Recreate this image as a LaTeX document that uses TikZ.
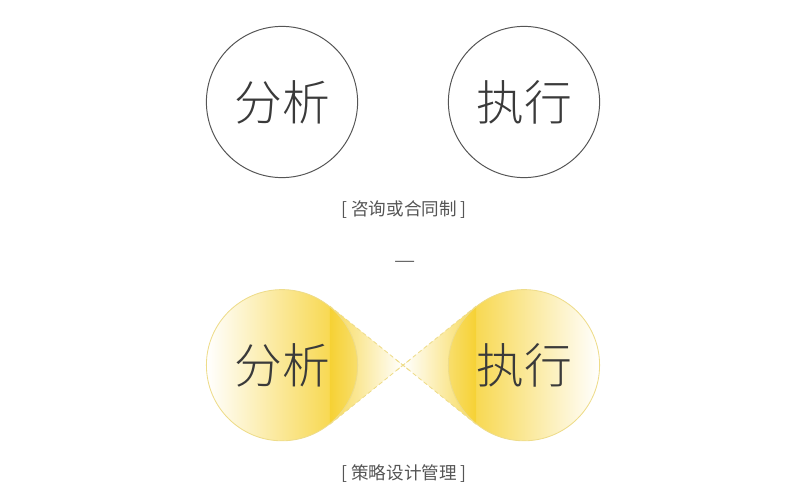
\documentclass[tikz,border=0pt]{standalone}
\usepackage{fontspec}
\newfontfamily\cjk{Noto Sans CJK SC}
\newfontfamily\cjkthin{Noto Sans CJK SC Light}
\usepackage{tikz}
\usetikzlibrary{calc,backgrounds,positioning}
\definecolor{ink}{HTML}{3A3A3A}
\definecolor{rim}{HTML}{555555}
\definecolor{gold}{HTML}{F6D02C}
\definecolor{paleline}{HTML}{EEDC8A}

\begin{document}
\begin{tikzpicture}[ring/.style={circle,draw=rim,line width=0.7pt,minimum size=3.78cm,inner sep=0pt,text=ink,font=\cjkthin\fontsize{34}{34}\selectfont},
	bubble/.style={ring,draw=paleline,line width=0.6pt},
	caption/.style={text=rim,font=\cjk\fontsize{12.5}{12.5}\selectfont},
	beam/.style={draw=paleline,dashed,dash pattern=on 3pt off 2pt,line width=0.6pt}]
		\useasboundingbox (0,0) rectangle (20.2,-12.5);

		\node[ring] (ana1) at (7.05,-2.55) {分析}; \node[ring] (exe1) at (13.1,-2.55) {执行};
		\node[caption] (cap1) at (10.1,-5.25) {[ 咨询或合同制 ]};
		\node[caption,font=\cjkthin\fontsize{17}{17}\selectfont] (sep) at (10.12,-6.62) {—};

		\node[bubble] (ana2) at (7.05,-9.13) {分析}; \node[bubble] (exe2) at (13.1,-9.13) {执行};
		\coordinate (cross) at ($(ana2)!0.5!(exe2)$);
		\coordinate (a1) at (tangent cs:node=ana2,point={(cross)},solution=1); \coordinate (a2) at (tangent cs:node=ana2,point={(cross)},solution=2);
		\coordinate (e1) at (tangent cs:node=exe2,point={(cross)},solution=1); \coordinate (e2) at (tangent cs:node=exe2,point={(cross)},solution=2);
		\node[caption] (cap2) at (10.1,-11.83) {[ 策略设计管理 ]};

		\begin{scope}[on background layer]
		\shade[left color=white,middle color=gold!40,right color=gold] (ana2.center) circle (1.89);
		\shade[left color=gold,middle color=gold!40,right color=white] (exe2.center) circle (1.89);
		\shade[left color=gold,right color=white,opacity=0.8] (a1) -- (cross) -- (a2) -- cycle;
		\shade[left color=white,right color=gold,opacity=0.8] (e1) -- (cross) -- (e2) -- cycle;
		\draw[beam] (a1) -- ($(a1)!1.12!(cross)$); \draw[beam] (a2) -- ($(a2)!1.12!(cross)$);
		\draw[beam] (e1) -- ($(e1)!1.12!(cross)$); \draw[beam] (e2) -- ($(e2)!1.12!(cross)$);
		\end{scope}
	\end{tikzpicture}
\end{document}
